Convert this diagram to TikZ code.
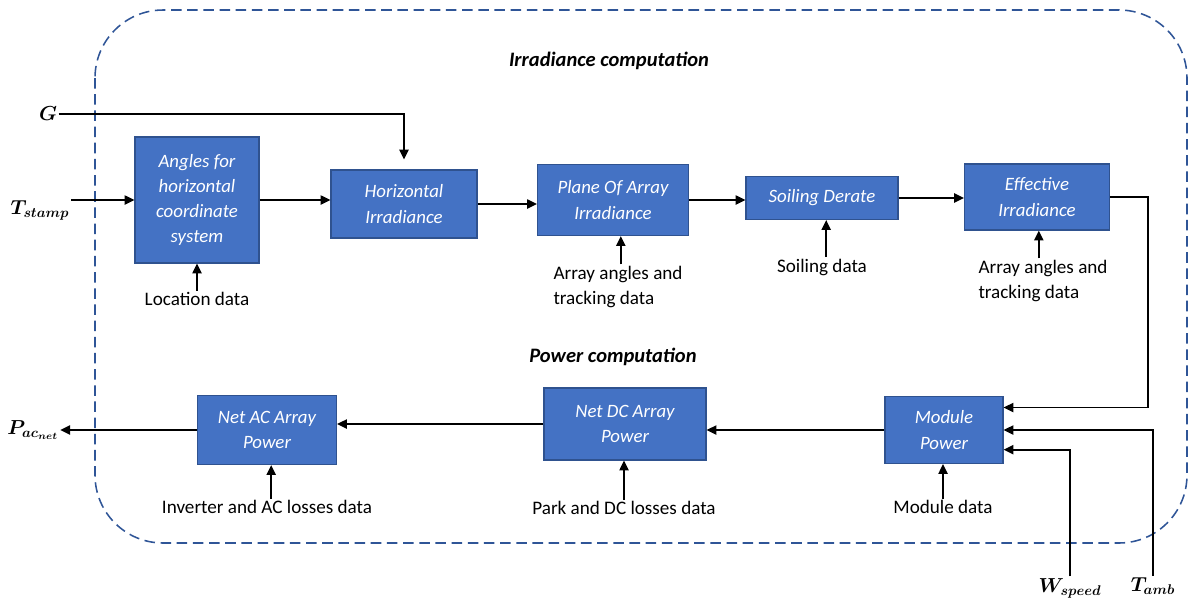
\documentclass[tikz,border=0pt]{standalone}
\usepackage{fontspec}
\setmainfont{Carlito}
\usepackage{amsmath, bm}
\usetikzlibrary{arrows.meta, positioning, calc}
\definecolor{boxblue}{HTML}{4472C4}
\definecolor{boxedge}{HTML}{2F528F}
\definecolor{frameblue}{HTML}{2F5597}

\begin{document}
\begin{tikzpicture}[x=0.025cm, y=-0.025cm,
    block/.style={draw=boxedge, line width=0.8pt, fill=boxblue, text=white,
        font=\fontsize{13.4}{18}\selectfont\itshape, align=center, inner sep=2pt},
    info/.style={font=\fontsize{13.6}{18}\selectfont, align=left, inner sep=1pt},
    flow/.style={-{Triangle[length=7pt, width=6.5pt]}, line width=1.3pt},
    var/.style={font=\fontsize{14}{16}\selectfont, inner sep=1pt}]
    \useasboundingbox (0,0) rectangle (1192,600);

    % frame and titles
    \draw[frameblue, line width=1.1pt, dash pattern=on 7.5pt off 4pt, rounded corners=1.7cm]
        (95,10) rectangle (1187,543);
    \node[font=\fontsize{14.6}{17}\selectfont\bfseries\itshape] (tirr) at (609,61) {Irradiance computation};
    \node[font=\fontsize{14.6}{17}\selectfont\bfseries\itshape] (tpow) at (613,357) {Power computation};

    % irradiance blocks
    \node[block, minimum width=3.1cm, minimum height=3.15cm] (ang) at (197,200) {Angles for\\horizontal\\coordinate\\system};
    \node[block, minimum width=3.65cm, minimum height=1.7cm] (hir) at (404,204) {Horizontal\\Irradiance};
    \node[block, minimum width=3.775cm, minimum height=1.775cm] (poa) at (613,200) {Plane Of Array\\Irradiance};
    \node[block, minimum width=3.8cm, minimum height=1.075cm] (soil) at (822,198) {Soiling Derate};
    \node[block, minimum width=3.625cm, minimum height=1.65cm] (eff) at (1037,197) {Effective\\Irradiance};

    % power blocks
    \node[block, minimum width=3.475cm, minimum height=1.725cm] (nac) at (267,430) {Net AC Array\\Power};
    \node[block, minimum width=4.05cm, minimum height=1.8cm] (ndc) at (625,424) {Net DC Array\\Power};
    \node[block, minimum width=2.95cm, minimum height=1.675cm] (mod) at (944,430) {Module\\Power};

    % data inputs
    \node[info] (loc) at (197,299) {Location data};
    \node[info] (aa1) at (618,287) {Array angles and\\tracking data};
    \node[info] (sdat) at (822,267) {Soiling data};
    \node[info] (aa2) at (1043,281) {Array angles and\\tracking data};
    \node[info] (inv) at (267,507) {Inverter and AC losses data};
    \node[info] (park) at (624,508) {Park and DC losses data};
    \node[info] (mdat) at (943,507) {Module data};

    % variables
    \node[var] (g) at (48,114) {$\bm{G}$};
    \node[var] (tst) at (40,210) {$\bm{T_{stamp}}$};
    \node[var] (pac) at (33,430) {$\bm{P_{ac_{net}}}$};
    \node[var] (wsp) at (1070,588) {$\bm{W_{speed}}$};
    \node[var] (tamb) at (1153,586) {$\bm{T_{amb}}$};

    % irradiance chain
    \draw[flow] (g.east) -- (g.east -| hir.north) -- ([yshift=7pt]hir.north);
    \draw[flow] (tst.east |- ang.west) -- (ang.west);
    \draw[flow] (ang.east) -- (ang.east -| hir.west);
    \draw[flow] (hir.east) -- (hir.east -| poa.west);
    \draw[flow] (poa.east) -- (poa.east -| soil.west);
    \draw[flow] (soil.east) -- (soil.east -| eff.west);
    \draw[flow] (eff.east) -- ++(38,0) |- ([yshift=16pt]mod.east);

    % power chain
    \draw[flow] (tamb.north) |- (mod.east);
    \draw[flow] (wsp.north) |- ([yshift=-14pt]mod.east);
    \draw[flow] (mod.west) -- (mod.west -| ndc.east);
    \draw[flow] (ndc.west) -- (ndc.west -| nac.east);
    \draw[flow] (nac.west) -- (nac.west -| pac.east);

    % data arrows
    \draw[flow] (loc.north) -- (ang.south);
    \draw[flow] ([xshift=2pt]aa1.north) -- ([xshift=2pt]aa1.north |- poa.south);
    \draw[flow] ([xshift=3pt]sdat.north) -- ([xshift=3pt]sdat.north |- soil.south);
    \draw[flow] ([xshift=-3pt]aa2.north) -- ([xshift=-3pt]aa2.north |- eff.south);
    \draw[flow] ([xshift=3pt]inv.north) -- ([xshift=3pt]inv.north |- nac.south);
    \draw[flow] (park.north) -- (park.north |- ndc.south);
    \draw[flow] (mdat.north) -- (mdat.north |- mod.south);
\end{tikzpicture}
\end{document}
